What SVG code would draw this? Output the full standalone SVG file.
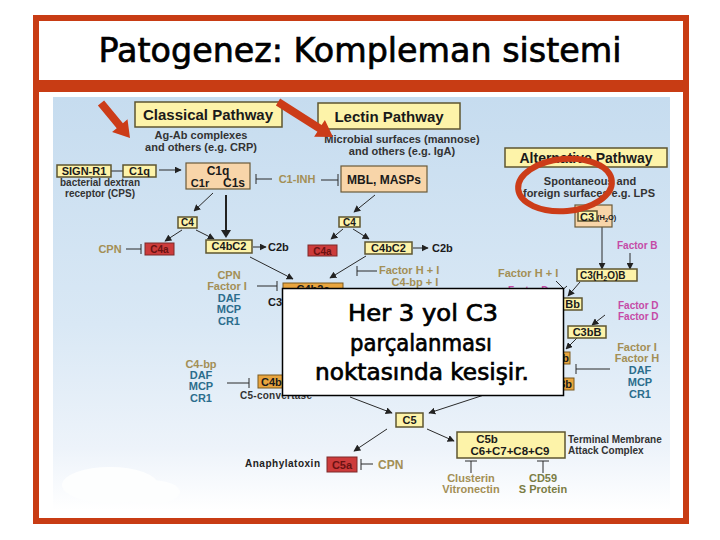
<svg xmlns="http://www.w3.org/2000/svg" width="720" height="540" viewBox="0 0 720 540">
<defs>
<linearGradient id="bg" x1="0" y1="0" x2="0" y2="1">
<stop offset="0" stop-color="#c6dcef"/>
<stop offset="0.55" stop-color="#d9e8f5"/>
<stop offset="0.85" stop-color="#edf3fa"/>
<stop offset="1" stop-color="#ffffff"/>
</linearGradient>
<marker id="ah" viewBox="0 0 10 10" refX="9" refY="5" markerWidth="7" markerHeight="7" markerUnits="userSpaceOnUse" orient="auto">
<path d="M0,0 L10,5 L0,10 z" fill="#222"/>
</marker>
<style>
.t{font-family:"Liberation Sans",Arial,sans-serif;font-weight:bold}
.c{font-family:"DejaVu Sans","Comic Sans MS",sans-serif;stroke:#000;stroke-width:0.7}
.by{fill:#fdf3a9;stroke:#5e5530;stroke-width:1.5}
.bp{fill:#f8d5a9;stroke:#6a5a3a;stroke-width:1.2}
.br{fill:#cd3b3b;stroke:#7d2a2a;stroke-width:1}
.bo{fill:#e9a53e;stroke:#7a5a20;stroke-width:1}
.k{fill:#1a1a1a}
.rt{fill:#6a1212}
.ol{fill:#a38f55}
.tl{fill:#2b6d8c}
.pk{fill:#c54aa6}
.ln{stroke:#2a2a2a;stroke-width:1;fill:none}
.a{marker-end:url(#ah)}
.red{fill:#cc3c18}
</style>
</defs>

<rect x="0" y="0" width="720" height="540" fill="#ffffff"/>
<g id="frame">
<rect x="36" y="18" width="650" height="503" fill="none" stroke="#c83c14" stroke-width="6"/>
<rect x="33" y="80" width="656" height="12" fill="#c83c14"/>
</g>
<g id="title">
<text class="c" x="360" y="62" font-size="34" text-anchor="middle" textLength="523" lengthAdjust="spacingAndGlyphs" fill="#000" stroke-width="1">Patogenez: Kompleman sistemi</text>
</g>

<g id="background">
<rect x="53" y="97" width="617" height="413" fill="url(#bg)"/>
<ellipse cx="110" cy="485" rx="48" ry="18" fill="#fdfefe"/>
<ellipse cx="150" cy="492" rx="30" ry="12" fill="#fdfefe"/>
</g>

<g id="connectors">
<line class="ln" x1="111" y1="171" x2="123" y2="171"/>
<line class="ln a" x1="159" y1="170" x2="181" y2="170"/>
<line class="ln a" x1="213" y1="193" x2="194" y2="211"/>
<line class="ln a" x1="182" y1="230" x2="165" y2="241"/>
<line class="ln a" x1="196" y1="230" x2="214" y2="239"/>
<line stroke="#222" stroke-width="2" x1="226" y1="195" x2="226" y2="231"/>
<path d="M221,230 L226,238 L231,230 z" fill="#222"/>
<line class="ln a" x1="253" y1="247" x2="266" y2="247"/>
<line class="ln a" x1="250" y1="257" x2="293" y2="279"/>
<line class="ln" x1="126" y1="249" x2="141" y2="249"/><line class="ln" x1="141" y1="244" x2="141" y2="254"/>
<line class="ln" x1="256" y1="179" x2="272" y2="179"/><line class="ln" x1="256" y1="174" x2="256" y2="184"/>
<line class="ln" x1="321" y1="180" x2="338" y2="180"/><line class="ln" x1="338" y1="174" x2="338" y2="186"/>
<line class="ln a" x1="375" y1="195" x2="354" y2="212"/>
<line class="ln a" x1="343" y1="229" x2="331" y2="239"/>
<line class="ln a" x1="353" y1="229" x2="369" y2="239"/>
<line class="ln a" x1="413" y1="248" x2="428" y2="248"/>
<line class="ln a" x1="366" y1="256" x2="330" y2="278"/>
<line class="ln" x1="357" y1="271" x2="377" y2="271"/><line class="ln" x1="357" y1="266" x2="357" y2="276"/>
<line class="ln" x1="257" y1="286" x2="277" y2="286"/><line class="ln" x1="277" y1="281" x2="277" y2="291"/>
<line class="ln" x1="227" y1="383" x2="249" y2="383"/><line class="ln" x1="249" y1="378" x2="249" y2="388"/>
<line class="ln a" x1="602" y1="227" x2="602" y2="269"/>
<line class="ln a" x1="630" y1="253" x2="630" y2="269"/>
<line class="ln a" x1="580" y1="282" x2="568" y2="296"/>
<line class="ln" x1="556" y1="281" x2="564" y2="289"/><line class="ln" x1="560" y1="292" x2="567" y2="286"/>
<line class="ln a" x1="605" y1="315" x2="592" y2="325"/>
<line class="ln a" x1="577" y1="338" x2="566" y2="349"/>
<line class="ln" x1="576" y1="369" x2="610" y2="369"/><line class="ln" x1="576" y1="364" x2="576" y2="374"/>
<line class="ln a" x1="350" y1="397" x2="392" y2="413"/>
<line class="ln a" x1="484" y1="395" x2="429" y2="413"/>
<line class="ln a" x1="387" y1="429" x2="354" y2="451"/>
<line class="ln a" x1="427" y1="429" x2="454" y2="441"/>
<line class="ln" x1="361" y1="464" x2="373" y2="464"/><line class="ln" x1="361" y1="459" x2="361" y2="470"/>
<line class="ln" x1="471" y1="461" x2="471" y2="473"/><line class="ln" x1="465" y1="461" x2="477" y2="461"/>
<line class="ln" x1="543" y1="461" x2="543" y2="473"/><line class="ln" x1="537" y1="461" x2="549" y2="461"/>
</g>

<g id="classical-pathway">
<rect class="by" x="135" y="102" width="147" height="25"/>
<text class="t k" x="208" y="120" font-size="15" text-anchor="middle">Classical Pathway</text>
<text class="t" fill="#333" x="201" y="139" font-size="11" text-anchor="middle">Ag-Ab complexes</text>
<text class="t" fill="#333" x="201" y="151" font-size="11" text-anchor="middle">and others (e.g. CRP)</text>
</g>
<g id="sign-r1">
<rect class="by" x="57" y="165" width="54" height="12"/>
<text class="t k" x="84" y="175" font-size="11" text-anchor="middle">SIGN-R1</text>
<text class="t" fill="#333" x="100" y="186" font-size="10" text-anchor="middle">bacterial dextran</text>
<text class="t" fill="#333" x="100" y="197" font-size="10" text-anchor="middle">receptor (CPS)</text>
</g>
<g id="c1q-small">
<rect class="by" x="123" y="165" width="33" height="12"/>
<text class="t k" x="139.5" y="175" font-size="11" text-anchor="middle">C1q</text>
</g>
<g id="c1-complex">
<rect class="bp" x="186" y="163" width="64" height="26"/>
<text class="t k" x="218" y="175" font-size="12" text-anchor="middle">C1q</text>
<text class="t k" x="200" y="187" font-size="11" text-anchor="middle">C1r</text>
<text class="t k" x="234" y="187" font-size="12" text-anchor="middle">C1s</text>
</g>
<g id="c1-inh"><text class="t ol" x="297" y="183" font-size="11" text-anchor="middle">C1-INH</text></g>
<g id="c4-classical">
<rect class="by" x="178" y="217" width="19" height="11"/>
<text class="t k" x="187.5" y="226" font-size="10" text-anchor="middle">C4</text>
</g>
<g id="c4a-classical">
<rect class="br" x="145" y="243" width="29" height="12"/>
<text class="t rt" x="159.5" y="253" font-size="10" text-anchor="middle">C4a</text>
<text class="t ol" x="110" y="253" font-size="11" text-anchor="middle">CPN</text>
</g>
<g id="c4bc2-classical">
<rect class="by" x="206" y="240" width="46" height="13"/>
<text class="t k" x="229" y="250" font-size="11" text-anchor="middle">C4bC2</text>
<text class="t k" x="268" y="251" font-size="11">C2b</text>
</g>

<g id="lectin-pathway">
<rect class="by" x="318" y="103" width="142" height="26"/>
<text class="t k" x="389" y="122" font-size="15" text-anchor="middle">Lectin Pathway</text>
<text class="t" fill="#333" x="402" y="143" font-size="11" text-anchor="middle">Microbial surfaces (mannose)</text>
<text class="t" fill="#333" x="402" y="155" font-size="11" text-anchor="middle">and others (e.g. IgA)</text>
</g>
<g id="mbl">
<rect class="bp" x="341" y="166" width="86" height="26"/>
<text class="t k" x="384" y="184" font-size="12" text-anchor="middle">MBL, MASPs</text>
</g>
<g id="c4-lectin">
<rect class="by" x="339" y="217" width="21" height="10"/>
<text class="t k" x="349.5" y="226" font-size="10" text-anchor="middle">C4</text>
</g>
<g id="c4a-lectin">
<rect class="br" x="308" y="245" width="29" height="11"/>
<text class="t rt" x="322.5" y="254.5" font-size="10" text-anchor="middle">C4a</text>
</g>
<g id="c4bc2-lectin">
<rect class="by" x="365" y="242" width="47" height="12"/>
<text class="t k" x="388.5" y="252" font-size="11" text-anchor="middle">C4bC2</text>
<text class="t k" x="432" y="252" font-size="11">C2b</text>
</g>
<g id="factor-hi-lectin">
<text class="t ol" x="379" y="274" font-size="11">Factor H + I</text>
<text class="t ol" x="415" y="286" font-size="11" text-anchor="middle">C4-bp + I</text>
</g>
<g id="c4b2a">
<rect class="bo" x="283" y="283" width="60" height="13"/>
<text class="t k" x="313" y="293" font-size="11" text-anchor="middle">C4b2a</text>
<text class="t k" x="268" y="306" font-size="11">C3</text>
</g>
<g id="inhibitors-c3">
<text class="t ol" x="229" y="279" font-size="11" text-anchor="middle">CPN</text>
<text class="t ol" x="227" y="290" font-size="11" text-anchor="middle">Factor I</text>
<text class="t tl" x="229" y="302" font-size="11" text-anchor="middle">DAF</text>
<text class="t tl" x="229" y="313" font-size="11" text-anchor="middle">MCP</text>
<text class="t tl" x="229" y="325" font-size="11" text-anchor="middle">CR1</text>
</g>
<g id="inhibitors-c5">
<text class="t ol" x="201" y="368" font-size="11" text-anchor="middle">C4-bp</text>
<text class="t tl" x="201" y="379" font-size="11" text-anchor="middle">DAF</text>
<text class="t tl" x="201" y="390" font-size="11" text-anchor="middle">MCP</text>
<text class="t tl" x="201" y="402" font-size="11" text-anchor="middle">CR1</text>
</g>
<g id="c4b-c5conv">
<rect class="bo" x="258" y="375" width="40" height="13"/>
<text class="t k" x="261" y="385.5" font-size="11">C4b</text>
<text class="t" fill="#333" x="240" y="399" font-size="10" textLength="72">C5-convertase</text>
</g>

<g id="alternative-pathway">
<rect class="by" x="505" y="148" width="162" height="19"/>
<text class="t k" x="586" y="163" font-size="14" text-anchor="middle">Alternative Pathway</text>
<text class="t" fill="#333" x="590" y="185" font-size="11" text-anchor="middle">Spontaneous and</text>
<text class="t" fill="#333" x="589" y="197" font-size="11" text-anchor="middle">foreign surfaces e.g. LPS</text>
</g>
<g id="c3h2o">
<rect class="bp" x="575" y="205" width="37" height="22"/>
<rect class="by" x="578" y="211" width="19" height="10" stroke-width="1"/>
<text class="t k" x="580" y="220.5" font-size="11">C3</text>
<text class="t k" x="597" y="220" font-size="7.5">(H<tspan font-size="5.5" dy="2">2</tspan><tspan dy="-2">O)</tspan></text>
<text class="t pk" x="617" y="249" font-size="10">Factor B</text>
</g>
<g id="c3h2ob">
<rect class="by" x="577" y="269" width="60" height="12"/>
<text class="t k" x="580" y="279" font-size="10">C3(H<tspan font-size="7" dy="2">2</tspan><tspan dy="-2">O)B</tspan></text>
<text class="t ol" x="498" y="277" font-size="11">Factor H + I</text>
<text class="t pk" x="508" y="294" font-size="10">Factor D</text>
</g>
<g id="c3bbb-1">
<rect class="by" x="530" y="298" width="52" height="12"/>
<text class="t k" x="580" y="308" font-size="11" text-anchor="end">Bb</text>
</g>
<g id="factor-d">
<text class="t pk" x="618" y="309" font-size="10">Factor D</text>
<text class="t pk" x="618" y="320" font-size="10">Factor D</text>
</g>
<g id="c3bb">
<rect class="by" x="568" y="326" width="38" height="12"/>
<text class="t k" x="587" y="336" font-size="11" text-anchor="middle">C3bB</text>
</g>
<g id="c3bbb-2">
<rect class="bo" x="530" y="352" width="40" height="12"/>
<text class="t k" x="569" y="362" font-size="11" text-anchor="end">b</text>
</g>
<g id="c3bbb3b">
<rect class="bo" x="530" y="378" width="44" height="12"/>
<text class="t k" x="572" y="388" font-size="11" text-anchor="end">3b</text>
</g>
<g id="inhibitors-alt">
<text class="t ol" x="637" y="351" font-size="11" text-anchor="middle">Factor I</text>
<text class="t ol" x="637" y="362" font-size="11" text-anchor="middle">Factor H</text>
<text class="t tl" x="640" y="374" font-size="11" text-anchor="middle">DAF</text>
<text class="t tl" x="640" y="386" font-size="11" text-anchor="middle">MCP</text>
<text class="t tl" x="640" y="398" font-size="11" text-anchor="middle">CR1</text>
</g>

<g id="c5">
<rect class="by" x="396" y="413" width="27" height="14"/>
<text class="t k" x="409.5" y="424" font-size="11" text-anchor="middle">C5</text>
</g>
<g id="c5a">
<rect class="br" x="327" y="457" width="30" height="15"/>
<text class="t rt" x="342" y="468.5" font-size="11" text-anchor="middle">C5a</text>
<text class="t" fill="#222" x="245" y="467" font-size="10" textLength="75">Anaphylatoxin</text>
<text class="t ol" x="378" y="469" font-size="12">CPN</text>
</g>
<g id="mac">
<rect class="by" x="457" y="432" width="108" height="26"/>
<text class="t k" x="487" y="443" font-size="11.5" text-anchor="middle">C5b</text>
<text class="t k" x="510" y="455" font-size="11.5" text-anchor="middle">C6+C7+C8+C9</text>
<text class="t" fill="#333" x="568" y="443" font-size="10">Terminal Membrane</text>
<text class="t" fill="#333" x="568" y="454" font-size="10">Attack Complex</text>
</g>
<g id="mac-inhibitors">
<text class="t ol" x="471" y="482" font-size="11" text-anchor="middle">Clusterin</text>
<text class="t ol" x="471" y="493" font-size="11" text-anchor="middle">Vitronectin</text>
<text class="t" fill="#7b7d45" x="543" y="482" font-size="11" text-anchor="middle">CD59</text>
<text class="t" fill="#7b7d45" x="543" y="493" font-size="11" text-anchor="middle">S Protein</text>
</g>

<g id="highlights">
<polygon class="red" points="104.1,100.5 122.9,123.2 127.5,119.3 130,138 112.1,132.1 116.7,128.3 97.9,105.5"/>
<polygon class="red" points="280.1,98.6 321.6,125 324.9,120 333,137 314.1,136.8 317.4,131.8 275.9,105.4"/>
<ellipse cx="565" cy="185" rx="47" ry="26" fill="none" stroke="#cc3c18" stroke-width="6" transform="rotate(-5 565 185)"/>
</g>

<g id="callout">
<rect x="282.5" y="288.5" width="281" height="107" fill="#ffffff" stroke="#000" stroke-width="1.5"/>
<text class="c" x="423" y="321" font-size="23" text-anchor="middle" textLength="150" lengthAdjust="spacingAndGlyphs" fill="#000">Her 3 yol C3</text>
<text class="c" x="421" y="351" font-size="23" text-anchor="middle" textLength="142" lengthAdjust="spacingAndGlyphs" fill="#000">parçalanması</text>
<text class="c" x="422" y="380" font-size="23" text-anchor="middle" textLength="214" lengthAdjust="spacingAndGlyphs" fill="#000">noktasında kesişir.</text>
</g>
</svg>
